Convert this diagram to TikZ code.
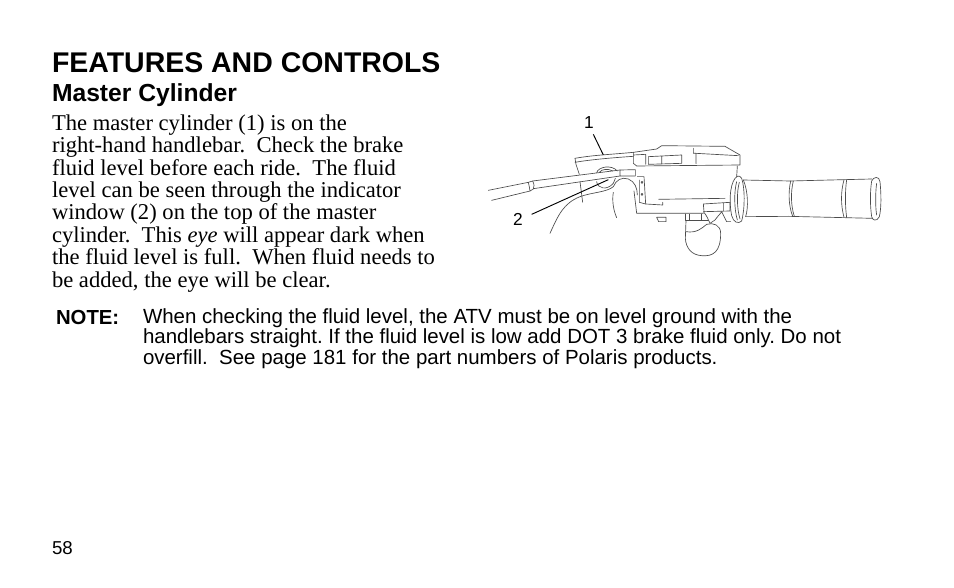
\documentclass[tikz,border=0pt]{standalone}
\usepackage{fontspec}
\setmainfont{Liberation Serif}
\setsansfont{Liberation Sans}
\usetikzlibrary{positioning}
\tikzset{
	every node/.style={inner sep=0pt,outer sep=0pt},
	title/.style={anchor=base west,font=\sffamily\bfseries\fontsize{21.35}{25}\selectfont},
	subtitle/.style={anchor=base west,font=\sffamily\bfseries\fontsize{18.5}{22}\selectfont},
	body/.style={anchor=base west,align=left,font=\fontsize{16.95}{16.8}\selectfont},
	note/.style={anchor=base west,align=left,font=\sffamily\frenchspacing\fontsize{15.35}{15.4}\selectfont},
	callout/.style={font=\sffamily\fontsize{13}{15}\selectfont},
	part/.style={draw=black!70,line width=0.5pt,line join=round,line cap=round},
	leader/.style={draw=black,line width=0.7pt}
}
\begin{document}
\begin{tikzpicture}[x=0.75pt,y=-0.75pt]
	\useasboundingbox (0,0) rectangle (954,588);
	\fill[white] (0,0) rectangle (954,588);

	\node (head) [title] at (52,73) {FEATURES AND CONTROLS};
	\node (sub) [subtitle] at (52,102) {Master Cylinder};
	\node (para) [body] at (52,287) {The master cylinder (1) is on the\\
		right-hand handlebar.\ \ Check the brake\\
		fluid level before each ride.\ \ The fluid\\
		level can be seen through the indicator\\
		window (2) on the top of the master\\
		cylinder.\ \ This \textit{eye} will appear dark when\\
		the fluid level is full.\ \ When fluid needs to\\
		be added, the eye will be clear.};
	\node (notelabel) [note,font=\sffamily\bfseries\fontsize{15.25}{15.7}\selectfont] at (56,325) {NOTE:};
	\node (notetext) [note] at (143,364.5) {When checking the fluid level, the ATV must be on level ground with the\\
		handlebars straight. If the fluid level is low add DOT 3 brake fluid only. Do not\\
		overfill.\ \ See page 181 for the part numbers of Polaris products.};
	\node (page) [anchor=base west,font=\sffamily\fontsize{14}{16}\selectfont] at (52,554) {58};

	% handlebar drawing, traced at 3x
	\begin{scope}[shift={(480,105)},x=0.25pt,y=-0.25pt]
		% cables
		\draw[part] (25,256) -- (145,232) (35,286) -- (150,258);
		\draw[part] (145,232) -- (158,228) .. controls (163,238) and (163,245) .. (160,252) -- (150,258) .. controls (148,250) and (148,240) .. (145,232);
		\draw[part] (158,228) -- (420,195) (160,251) -- (420,213);
		\draw[part] (420,195) -- (466,194) -- (466,213) -- (420,213) -- cycle;
		% lower reservoir and window
		\draw[part] (285,160) .. controls (340,150) and (400,148) .. (460,142);
		\draw[part] (285,160) -- (288,178) -- (298,208) (285,172) .. controls (330,164) and (400,158) .. (460,154);
		\draw[part] (300,230) -- (308,292);
		\draw[part] (350,203) .. controls (355,185) and (395,178) .. (412,198);
		\draw[part] (358,202) .. controls (365,192) and (385,190) .. (398,198);
		\draw[part] (350,230) .. controls (352,250) and (380,258) .. (400,235) -- (406,220);
		% lever
		\draw[part] (210,385) .. controls (235,330) and (250,295) .. (300,275) .. controls (335,262) and (380,262) .. (400,245) .. controls (408,225) and (425,215) .. (445,222) .. controls (465,230) and (472,250) .. (472,270);
		\draw[part] (400,262) .. controls (395,290) and (402,320) .. (410,338);
		\draw[part] (462,258) -- (470,325) -- (670,325);
		% cap
		\draw[part] (460,175) -- (460,142) -- (530,132) -- (545,122) -- (735,124) -- (780,150) -- (780,180) -- (470,183) -- cycle;
		\draw[part] (460,150) -- (497,148) -- (497,178);
		\draw[part] (505,155) -- (605,150) -- (605,175) -- (505,178) -- cycle (545,153) -- (545,177);
		\draw[part] (640,130) -- (640,145) -- (648,145) -- (648,176) (648,145) -- (775,152);
		% master body
		\draw[part] (472,215) -- (492,215) -- (497,297) -- (548,300) -- (548,292);
		\draw[part] (478,225) -- (478,292) -- (497,297);
		\draw[part] (486,232) circle (3) (486,268) circle (3);
		\draw[part] (536,283) -- (735,280);
		\draw[part] (772,183) -- (770,215);
		\draw[part] (670,297) -- (750,292) -- (750,318) -- (672,320) -- cycle (730,293) -- (730,318);
		\draw[part] (670,320) .. controls (680,330) and (685,345) .. (690,355) -- (705,345) .. controls (712,335) and (722,325) .. (725,320) -- (740,350) -- (752,350);
		% bolt
		\draw[part] (530,337) -- (558,337) -- (558,350) -- (536,350) -- cycle;
		\draw[part] (615,327) -- (615,347) -- (685,347) (628,328) -- (628,347) (665,327) -- (665,347);
		% knob
		\draw[part] (618,347) -- (616,400) .. controls (618,430) and (635,450) .. (665,452) .. controls (700,455) and (722,440) .. (722,385) .. controls (722,360) and (700,352) .. (680,358) .. controls (665,370) and (650,385) .. (618,380);
		% grip flange
		\draw[part] (772,214) .. controls (752,225) and (745,280) .. (755,332) .. controls (760,352) and (775,358) .. (785,348) .. controls (795,310) and (795,250) .. (785,220) .. controls (782,214) and (776,212) .. (772,214);
		\draw[part] (770,230) .. controls (762,260) and (762,310) .. (772,345);
		\draw[part] (778,232) .. controls (770,260) and (770,310) .. (780,342);
		% grip
		\draw[part] (790,225) -- (930,228) -- (1092,224) -- (1175,222);
		\draw[part] (797,335) -- (925,334) -- (1095,338) -- (1178,340);
		\draw[part] (790,225) .. controls (805,260) and (805,310) .. (797,335);
		\draw[part] (932,228) .. controls (925,260) and (925,300) .. (938,334) (940,228) .. controls (932,260) and (932,300) .. (943,334);
		\draw[part] (1092,225) .. controls (1082,260) and (1082,300) .. (1092,337) (1100,224) .. controls (1095,260) and (1095,300) .. (1100,338);
		\draw[part] (1175,228) .. controls (1180,215) and (1198,212) .. (1200,230) .. controls (1204,270) and (1204,310) .. (1198,335) .. controls (1190,352) and (1176,345) .. (1175,335) .. controls (1170,300) and (1170,260) .. (1175,228);
		\draw[part] (1190,235) .. controls (1186,260) and (1186,310) .. (1190,330);
		% leader ends
		\coordinate (tip1) at (370,150);
		\coordinate (tip2) at (385,224);
		\coordinate (from1) at (340,88);
		\coordinate (from2) at (155,328);
	\end{scope}

	\node (lab1) [callout] at (589,123) {1};
	\node (lab2) [callout] at (518,219) {2};
	\draw[leader] (from1) -- (tip1);
	\draw[leader] (from2) -- (tip2);
\end{tikzpicture}
\end{document}
